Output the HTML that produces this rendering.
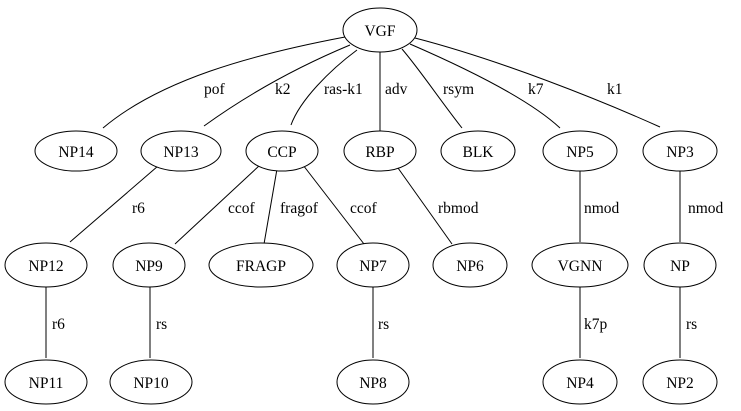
<!DOCTYPE html>
<html><head><meta charset="utf-8"><style>body{margin:0;background:#fff}svg{display:block}</style></head><body>
<svg width="741" height="411" viewBox="0 0 741 411" xmlns="http://www.w3.org/2000/svg" font-family="'Liberation Serif', 'DejaVu Serif', serif" font-size="15.5">
<g fill="none" stroke="#000" stroke-width="1">
<path d="M345,37 C250,55 160,80 103,128"/>
<path d="M350,45 C290,70 240,100 204,126"/>
<path d="M357,50 C330,70 300,100 291,125"/>
<path d="M380,52 L380,132"/>
<path d="M402,49 C420,70 440,100 462,128"/>
<path d="M410,44 C470,70 530,100 560,128"/>
<path d="M415,38 C500,60 600,100 660,127"/>
<path d="M158,166 L70,242"/>
<path d="M260,165 L175,244"/>
<path d="M277,169 L264,244"/>
<path d="M303,165 L364,244"/>
<path d="M398,168 L452,244"/>
<path d="M580,170 L580,242"/>
<path d="M680,170 L680,242"/>
<path d="M46,287 L46,358"/>
<path d="M150,287 L150,358"/>
<path d="M373,287 L373,358"/>
<path d="M580,287 L580,358"/>
<path d="M680,287 L680,358"/>
</g>
<g fill="#fff" stroke="#000" stroke-width="1">
<ellipse cx="380" cy="30" rx="37" ry="22"/>
<ellipse cx="76" cy="151" rx="41" ry="20"/>
<ellipse cx="181" cy="151" rx="40" ry="20"/>
<ellipse cx="282" cy="151" rx="36" ry="20"/>
<ellipse cx="380" cy="151" rx="36" ry="20"/>
<ellipse cx="478" cy="151" rx="37" ry="20"/>
<ellipse cx="580" cy="151" rx="37" ry="20"/>
<ellipse cx="680" cy="151" rx="37" ry="20"/>
<ellipse cx="46" cy="265" rx="41" ry="22"/>
<ellipse cx="149" cy="265" rx="36" ry="22"/>
<ellipse cx="261" cy="265" rx="52" ry="22"/>
<ellipse cx="373" cy="265" rx="36" ry="22"/>
<ellipse cx="470" cy="265" rx="37" ry="22"/>
<ellipse cx="580" cy="265" rx="48" ry="22"/>
<ellipse cx="680" cy="265" rx="36" ry="22"/>
<ellipse cx="46" cy="382" rx="41" ry="22"/>
<ellipse cx="151" cy="382" rx="41" ry="22"/>
<ellipse cx="373" cy="382" rx="36" ry="22"/>
<ellipse cx="580" cy="382" rx="37" ry="22"/>
<ellipse cx="680" cy="382" rx="37" ry="22"/>
</g>
<g text-anchor="middle">
<text x="380" y="36">VGF</text>
<text x="76" y="157">NP14</text>
<text x="181" y="157">NP13</text>
<text x="282" y="157">CCP</text>
<text x="380" y="157">RBP</text>
<text x="478" y="157">BLK</text>
<text x="580" y="157">NP5</text>
<text x="680" y="157">NP3</text>
<text x="46" y="271">NP12</text>
<text x="149" y="271">NP9</text>
<text x="261" y="271">FRAGP</text>
<text x="373" y="271">NP7</text>
<text x="470" y="271">NP6</text>
<text x="580" y="271">VGNN</text>
<text x="680" y="271">NP</text>
<text x="46" y="388">NP11</text>
<text x="151" y="388">NP10</text>
<text x="373" y="388">NP8</text>
<text x="580" y="388">NP4</text>
<text x="680" y="388">NP2</text>
</g>
<g>
<text x="204" y="94">pof</text>
<text x="275" y="94">k2</text>
<text x="324" y="94">ras-k1</text>
<text x="385" y="94">adv</text>
<text x="443" y="94">rsym</text>
<text x="528" y="94">k7</text>
<text x="607" y="94">k1</text>
<text x="132" y="213">r6</text>
<text x="228" y="213">ccof</text>
<text x="280" y="213">fragof</text>
<text x="350" y="213">ccof</text>
<text x="438" y="213">rbmod</text>
<text x="584" y="213">nmod</text>
<text x="688" y="213">nmod</text>
<text x="52" y="329">r6</text>
<text x="156" y="329">rs</text>
<text x="378" y="329">rs</text>
<text x="584" y="329">k7p</text>
<text x="686" y="329">rs</text>
</g>
</svg>
</body></html>
